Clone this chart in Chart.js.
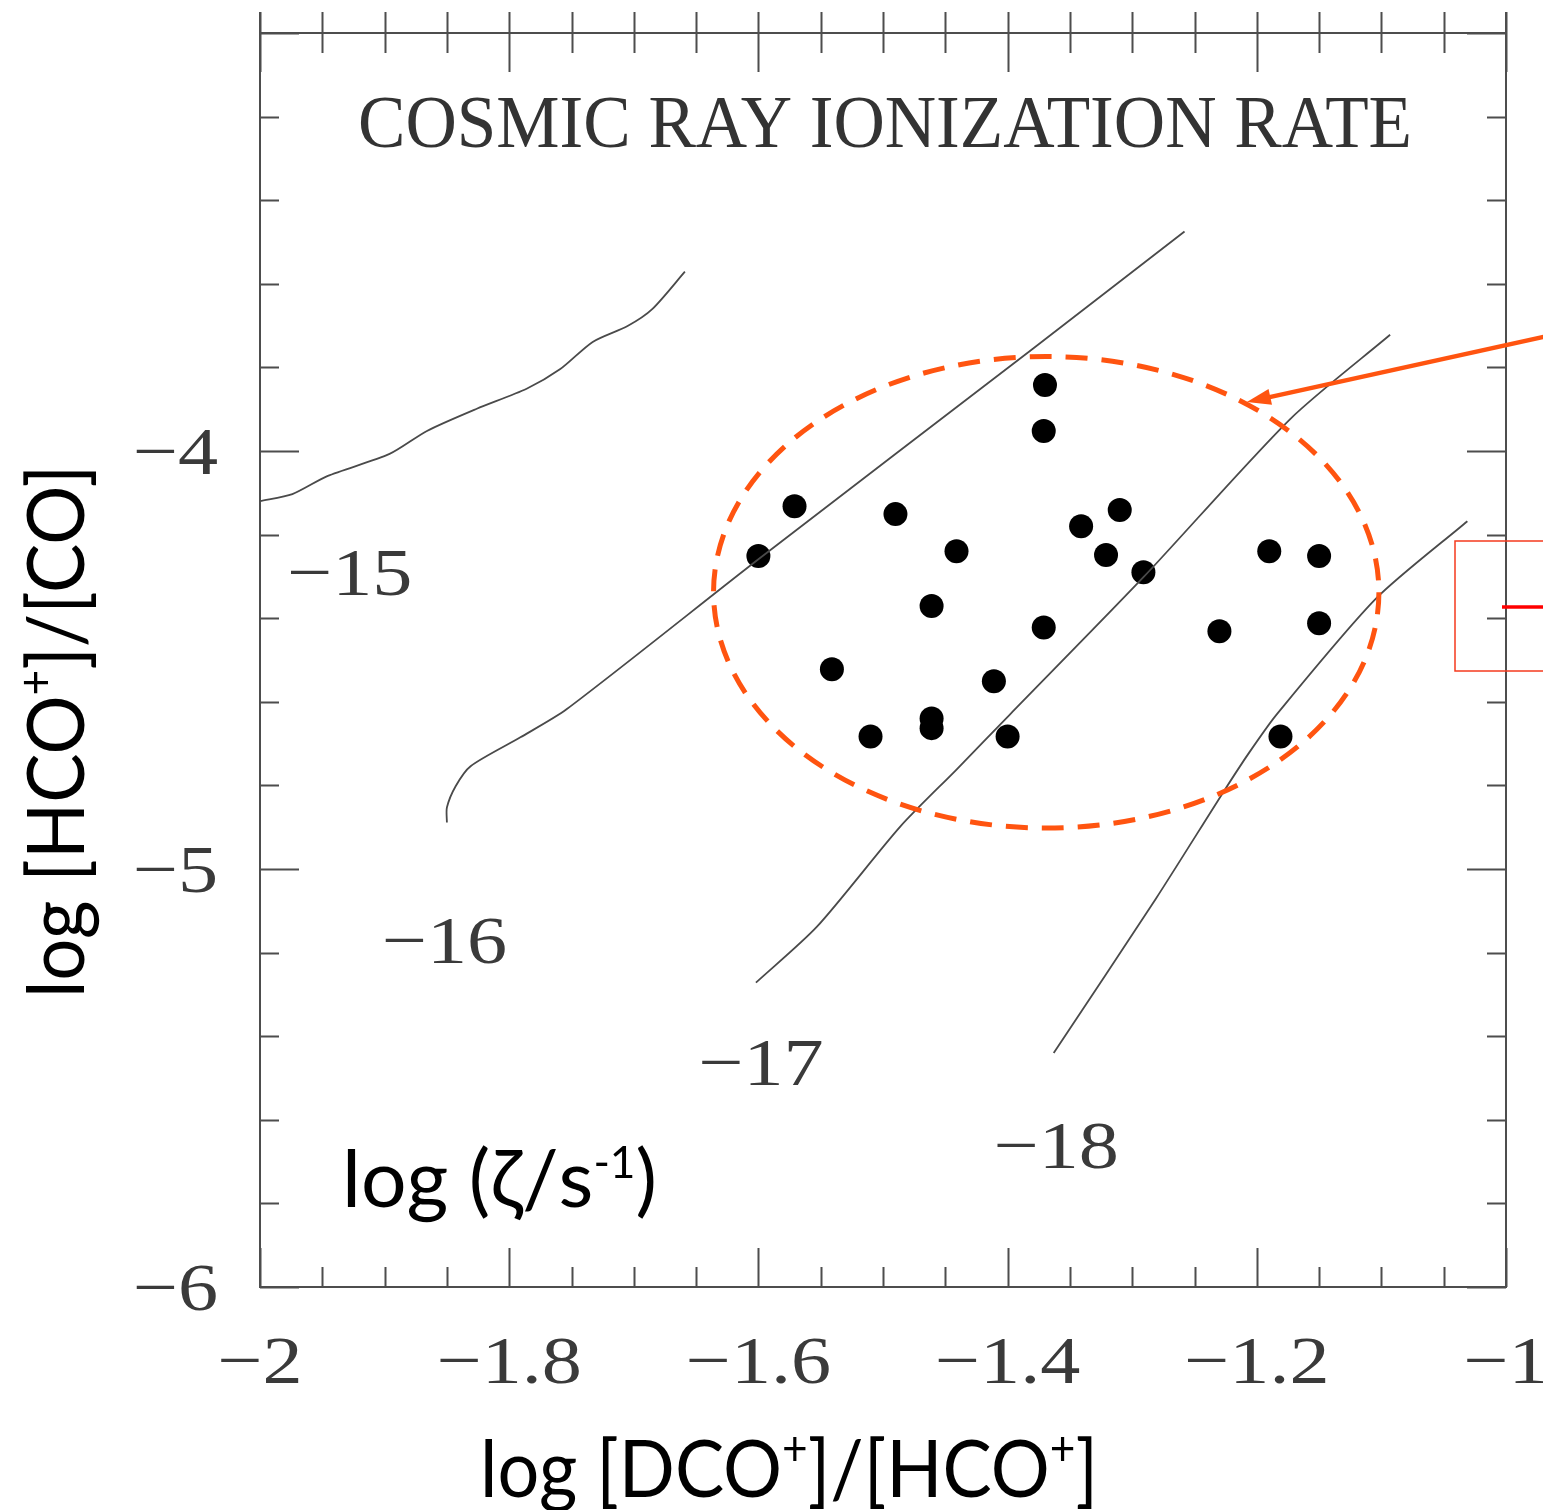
<!DOCTYPE html>
<html><head><meta charset="utf-8">
<script src="https://cdn.jsdelivr.net/npm/chart.js@4.4.1/dist/chart.umd.min.js"></script>
<style>html,body{margin:0;padding:0;background:#fff;} canvas{display:block;}</style>
</head><body>
<canvas id="c" width="1543" height="1510"></canvas>
<script>
// ---- axis ticks ----
const xMajorTicks = [-2, -1.8, -1.6, -1.4, -1.2, -1];
const xTickLabels = ['−2', '−1.8', '−1.6', '−1.4', '−1.2', '−1'];
const yMajorTicks = [-6, -5, -4];
const yTickLabels = ['−6', '−5', '−4'];
const xMinorStep = 0.05;
const yMinorStep = 0.2;

// ---- observed sources ----
const dotsX = [-1.370, -1.371, -1.571, -1.600, -1.490, -1.441, -1.461, -1.341, -1.310, -1.321, -1.291, -1.371,
               -1.541, -1.411, -1.510, -1.461, -1.461, -1.400, -1.190, -1.150, -1.230, -1.150, -1.181];
const dotsY = [-3.842, -3.952, -4.132, -4.251, -4.151, -4.240, -4.371, -4.180, -4.141, -4.249, -4.290, -4.422,
               -4.522, -4.551, -4.683, -4.640, -4.663, -4.683, -4.240, -4.251, -4.431, -4.412, -4.683];

// ---- model contours, log(zeta/s^-1) ----
const c15X = [-2.000, -1.974, -1.946, -1.896, -1.866, -1.826, -1.786, -1.759, -1.733, -1.705, -1.685, -1.659];
const c15Y = [-4.120, -4.103, -4.060, -4.007, -3.952, -3.899, -3.851, -3.804, -3.739, -3.701, -3.660, -3.571];
const c16X = [-1.850, -1.850, -1.843, -1.831, -1.791, -1.754, -1.600, -1.380, -1.258];
const c16Y = [-4.889, -4.853, -4.802, -4.754, -4.685, -4.618, -4.259, -3.756, -3.475];
const c17X = [-1.602, -1.553, -1.486, -1.441, -1.398, -1.291, -1.173, -1.093];
const c17Y = [-5.272, -5.138, -4.898, -4.762, -4.630, -4.302, -3.923, -3.722];
const c18X = [-1.363, -1.281, -1.226, -1.206, -1.184, -1.104, -1.031];
const c18Y = [-5.440, -5.071, -4.812, -4.721, -4.630, -4.352, -4.168];

const contourLabels = ['−15', '−16', '−17', '−18'];
const contourLabelX = [-1.928, -1.852, -1.598, -1.361];
const contourLabelY = [-4.290, -5.169, -5.461, -5.660];

const pts = (xs, ys) => xs.map((v, i) => ({x: v, y: ys[i]}));

const SERIF = '"Liberation Serif", "DejaVu Serif", serif';
const SANS = 'Lato, "Open Sans", sans-serif';
const SERIF_STRETCH = 1.18;

function serifText(ctx, text, x, y, size, align) {
  ctx.save();
  ctx.font = size + 'px ' + SERIF;
  ctx.textBaseline = 'alphabetic';
  const w = ctx.measureText(text).width * SERIF_STRETCH;
  let left = x;
  if (align === 'center') left = x - w / 2;
  else if (align === 'right') left = x - w;
  ctx.translate(left, y);
  ctx.scale(SERIF_STRETCH, 1);
  ctx.textAlign = 'left';
  ctx.fillText(text, 0, 0);
  ctx.restore();
}

function fitText(ctx, text, left, y, font, targetW) {
  ctx.save();
  ctx.font = font;
  ctx.textBaseline = 'alphabetic';
  ctx.textAlign = 'left';
  const w = ctx.measureText(text).width;
  ctx.translate(left, y);
  ctx.scale(targetW / w, 1);
  ctx.fillText(text, 0, 0);
  ctx.restore();
}

// segments: [text, relSize, relDy]
function richText(ctx, segs, size, family, targetW) {
  let total = 0;
  segs.forEach(s => { ctx.font = (size * s[1]) + 'px ' + family; total += ctx.measureText(s[0]).width; });
  const k = targetW / total;
  ctx.save();
  ctx.scale(k, 1);
  let cx = 0;
  segs.forEach(s => {
    ctx.font = (size * s[1]) + 'px ' + family;
    ctx.textBaseline = 'alphabetic';
    ctx.textAlign = 'left';
    ctx.fillText(s[0], cx, s[2] * size);
    cx += ctx.measureText(s[0]).width;
  });
  ctx.restore();
}

const framePlugin = {
  id: 'frame',
  beforeDatasetsDraw(chart) {
    const {ctx, chartArea: a, scales: {x, y}} = chart;
    ctx.save();
    ctx.strokeStyle = '#4d4d4d';
    ctx.lineWidth = 2;
    ctx.beginPath();
    ctx.moveTo(a.left, a.top - 21); ctx.lineTo(a.left, a.bottom);
    ctx.lineTo(a.right, a.bottom); ctx.lineTo(a.right, a.top - 21);
    ctx.moveTo(a.left, a.top); ctx.lineTo(a.right, a.top);
    // x ticks
    const nx = Math.round((x.max - x.min) / xMinorStep);
    for (let i = 0; i <= nx; i++) {
      const v = x.min + i * xMinorStep;
      const px = Math.round(x.getPixelForValue(v)) + 0.5;
      const major = xMajorTicks.some(t => Math.abs(t - v) < 1e-6);
      const len = major ? 39 : 20;
      ctx.moveTo(px, a.bottom); ctx.lineTo(px, a.bottom - len);
      ctx.moveTo(px, a.top - 21); ctx.lineTo(px, a.top + len);
    }
    const ny = Math.round((y.max - y.min) / yMinorStep);
    for (let i = 0; i <= ny; i++) {
      const v = y.min + i * yMinorStep;
      const py = Math.round(y.getPixelForValue(v)) + 0.5;
      const major = Math.abs(v - Math.round(v)) < 1e-6;
      const len = major ? 39 : 19;
      ctx.moveTo(a.left, py); ctx.lineTo(a.left + len, py);
      ctx.moveTo(a.right, py); ctx.lineTo(a.right - len, py);
    }
    ctx.stroke();

    // tick labels
    ctx.fillStyle = '#3a3a3a';
    xMajorTicks.forEach((v, i) => serifText(ctx, xTickLabels[i], x.getPixelForValue(v), a.bottom + 96, 68, 'center'));
    yMajorTicks.forEach((v, i) => serifText(ctx, yTickLabels[i], a.left - 42, y.getPixelForValue(v) + 23, 68, 'right'));
    // contour labels
    contourLabels.forEach((t, i) => serifText(ctx, t, x.getPixelForValue(contourLabelX[i]), y.getPixelForValue(contourLabelY[i]) + 23, 68, 'center'));
    // panel title
    ctx.fillStyle = '#333';
    fitText(ctx, 'COSMIC RAY IONIZATION RATE', a.left + 98, a.top + 114, '75px ' + SERIF, 1054);

    // axis titles
    ctx.fillStyle = '#000';
    ctx.save();
    ctx.translate(480, a.bottom + 210);
    richText(ctx, [['log [DCO', 1, 0], ['+', 0.6, -0.4], [']/[HCO', 1, 0], ['+', 0.6, -0.4], [']', 1, 0]], 80, SANS, 618);
    ctx.restore();
    ctx.save();
    ctx.translate(84, 998);
    ctx.rotate(-Math.PI / 2);
    richText(ctx, [['log [HCO', 1, 0], ['+', 0.6, -0.4], [']/[CO]', 1, 0]], 80, SANS, 533);
    ctx.restore();
    ctx.save();
    ctx.translate(342, 1207);
    richText(ctx, [['log (ζ/s', 1, 0], ['-1', 0.55, -0.36], [')', 1, 0]], 80, SANS, 315);
    ctx.restore();
    ctx.restore();
  },
  afterDatasetsDraw(chart) {
    const {ctx, scales: {x, y}} = chart;
    ctx.save();
    // dashed ellipse around the sources
    const cx = x.getPixelForValue(-1.369), cy = y.getPixelForValue(-4.338);
    const rx = x.getPixelForValue(-1.369 + 0.267) - cx;
    const ry = y.getPixelForValue(-4.338 - 0.564) - cy;
    ctx.strokeStyle = '#ff5410';
    ctx.lineWidth = 5;
    ctx.setLineDash([22, 14]);
    ctx.beginPath();
    ctx.ellipse(cx, cy, rx, ry, 0, 0, Math.PI * 2);
    ctx.stroke();
    ctx.setLineDash([]);
    // arrow
    const tx = x.getPixelForValue(-1.208), ty = y.getPixelForValue(-3.883);
    const sx = 1560, sy = ty - (sx - tx) * 0.22;
    const ang = Math.atan2(sy - ty, sx - tx);
    ctx.lineWidth = 4.5;
    ctx.beginPath();
    ctx.moveTo(sx, sy);
    ctx.lineTo(tx + Math.cos(ang) * 14, ty + Math.sin(ang) * 14);
    ctx.stroke();
    ctx.fillStyle = '#ff5410';
    ctx.beginPath();
    ctx.moveTo(tx, ty);
    ctx.lineTo(tx + Math.cos(ang) * 24 - Math.sin(ang) * 8, ty + Math.sin(ang) * 24 + Math.cos(ang) * 8);
    ctx.lineTo(tx + Math.cos(ang) * 24 + Math.sin(ang) * 8, ty + Math.sin(ang) * 24 - Math.cos(ang) * 8);
    ctx.closePath();
    ctx.fill();
    // legend-like box at right edge
    ctx.strokeStyle = '#f53a1e';
    ctx.lineWidth = 1.5;
    ctx.strokeRect(1455, 541, 200, 130);
    ctx.strokeStyle = '#ff0000';
    ctx.lineWidth = 3.5;
    ctx.beginPath();
    ctx.moveTo(1502, 607); ctx.lineTo(1545, 607);
    ctx.stroke();
    ctx.restore();
  }
};

const lineStyle = {showLine: true, pointRadius: 0, borderColor: '#4a4a4a', borderWidth: 1.8, tension: 0.25, fill: false};

new Chart(document.getElementById('c'), {
  type: 'scatter',
  data: {
    datasets: [
      Object.assign({label: '-15', data: pts(c15X, c15Y)}, lineStyle),
      Object.assign({label: '-16', data: pts(c16X, c16Y)}, lineStyle),
      Object.assign({label: '-17', data: pts(c17X, c17Y)}, lineStyle),
      Object.assign({label: '-18', data: pts(c18X, c18Y)}, lineStyle),
      {label: 'sources', data: pts(dotsX, dotsY), pointRadius: 12, pointBackgroundColor: '#000', pointBorderWidth: 0, showLine: false}
    ]
  },
  options: {
    responsive: false,
    animation: false,
    devicePixelRatio: 1,
    layout: {padding: {left: 260, right: 37, top: 33, bottom: 223}},
    plugins: {legend: {display: false}, tooltip: {enabled: false}},
    scales: {
      x: {type: 'linear', min: -2, max: -1, display: false},
      y: {type: 'linear', min: -6, max: -3, display: false}
    }
  },
  plugins: [framePlugin]
});
</script>
</body></html>
